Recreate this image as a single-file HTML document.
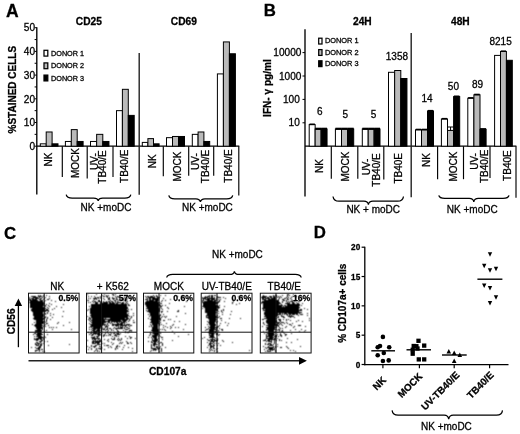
<!DOCTYPE html>
<html><head><meta charset="utf-8"><title>Figure</title>
<style>
html,body{margin:0;padding:0;background:#fff;}
svg{display:block;font-family:'Liberation Sans', Arial, Helvetica, sans-serif;}
</style></head>
<body>
<svg width="520" height="434" viewBox="0 0 520 434">
<defs><filter id="bl" x="-5%" y="-5%" width="110%" height="110%"><feConvolveMatrix order="3" kernelMatrix="0.05 0.12 0.05 0.12 0.32 0.12 0.05 0.12 0.05" divisor="1" edgeMode="none" preserveAlpha="false"/></filter></defs>
<rect x="0" y="0" width="520" height="434" fill="#fff"/>
<text x="5.90" y="16.60" font-size="17.5" font-weight="bold" text-anchor="start" fill="#000" stroke="#000" stroke-width="0.28">A</text>
<text x="263.80" y="15.90" font-size="16.8" font-weight="bold" text-anchor="start" fill="#000" stroke="#000" stroke-width="0.28">B</text>
<text x="3.90" y="239.20" font-size="16.8" font-weight="bold" text-anchor="start" fill="#000" stroke="#000" stroke-width="0.28">C</text>
<text x="313.80" y="238.30" font-size="16.8" font-weight="bold" text-anchor="start" fill="#000" stroke="#000" stroke-width="0.28">D</text>
<line x1="36.80" y1="27.30" x2="36.80" y2="194.60" stroke="#000" stroke-width="1.35"/>
<line x1="34.60" y1="146.20" x2="36.80" y2="146.20" stroke="#000" stroke-width="1.0"/>
<line x1="34.60" y1="134.35" x2="36.80" y2="134.35" stroke="#000" stroke-width="1.0"/>
<line x1="34.60" y1="122.50" x2="36.80" y2="122.50" stroke="#000" stroke-width="1.0"/>
<line x1="34.60" y1="110.65" x2="36.80" y2="110.65" stroke="#000" stroke-width="1.0"/>
<line x1="34.60" y1="98.80" x2="36.80" y2="98.80" stroke="#000" stroke-width="1.0"/>
<line x1="34.60" y1="86.95" x2="36.80" y2="86.95" stroke="#000" stroke-width="1.0"/>
<line x1="34.60" y1="75.10" x2="36.80" y2="75.10" stroke="#000" stroke-width="1.0"/>
<line x1="34.60" y1="63.25" x2="36.80" y2="63.25" stroke="#000" stroke-width="1.0"/>
<line x1="34.60" y1="51.40" x2="36.80" y2="51.40" stroke="#000" stroke-width="1.0"/>
<line x1="34.60" y1="39.55" x2="36.80" y2="39.55" stroke="#000" stroke-width="1.0"/>
<line x1="34.60" y1="27.70" x2="36.80" y2="27.70" stroke="#000" stroke-width="1.0"/>
<text x="35.00" y="149.90" font-size="10.1" text-anchor="end" fill="#000" stroke="#000" stroke-width="0.28">0</text>
<text x="35.00" y="126.20" font-size="10.1" text-anchor="end" fill="#000" stroke="#000" stroke-width="0.28">10</text>
<text x="35.00" y="102.50" font-size="10.1" text-anchor="end" fill="#000" stroke="#000" stroke-width="0.28">20</text>
<text x="35.00" y="78.80" font-size="10.1" text-anchor="end" fill="#000" stroke="#000" stroke-width="0.28">30</text>
<text x="35.00" y="55.10" font-size="10.1" text-anchor="end" fill="#000" stroke="#000" stroke-width="0.28">40</text>
<text x="35.00" y="31.40" font-size="10.1" text-anchor="end" fill="#000" stroke="#000" stroke-width="0.28">50</text>
<text x="16.00" y="89.70" font-size="10" font-weight="bold" text-anchor="middle" transform="rotate(-90 16.00 89.70)" fill="#000" stroke="#000" stroke-width="0.28">%STAINED CELLS</text>
<line x1="36.80" y1="146.20" x2="239.30" y2="146.20" stroke="#000" stroke-width="1.3"/>
<line x1="62.30" y1="146.20" x2="62.30" y2="177.00" stroke="#000" stroke-width="1.15"/>
<line x1="87.20" y1="146.20" x2="87.20" y2="178.50" stroke="#000" stroke-width="1.15"/>
<line x1="113.00" y1="146.20" x2="113.00" y2="177.00" stroke="#000" stroke-width="1.15"/>
<line x1="163.30" y1="146.20" x2="163.30" y2="176.20" stroke="#000" stroke-width="1.15"/>
<line x1="188.70" y1="146.20" x2="188.70" y2="175.80" stroke="#000" stroke-width="1.15"/>
<line x1="213.70" y1="146.20" x2="213.70" y2="175.80" stroke="#000" stroke-width="1.15"/>
<line x1="139.20" y1="53.00" x2="139.20" y2="194.70" stroke="#222" stroke-width="1.4"/>
<line x1="238.80" y1="146.20" x2="238.80" y2="195.40" stroke="#000" stroke-width="1.15"/>
<rect x="40.30" y="143.83" width="5.90" height="2.37" fill="#fff" stroke="#000" stroke-width="1.0"/>
<rect x="46.20" y="131.98" width="5.90" height="14.22" fill="#bababa" stroke="#000" stroke-width="1.0"/>
<rect x="52.10" y="143.83" width="5.90" height="2.37" fill="#000" stroke="#000" stroke-width="1.0"/>
<rect x="65.40" y="141.46" width="5.90" height="4.74" fill="#fff" stroke="#000" stroke-width="1.0"/>
<rect x="71.30" y="129.61" width="5.90" height="16.59" fill="#bababa" stroke="#000" stroke-width="1.0"/>
<rect x="77.20" y="141.46" width="5.90" height="4.74" fill="#000" stroke="#000" stroke-width="1.0"/>
<rect x="90.50" y="141.46" width="6.15" height="4.74" fill="#fff" stroke="#000" stroke-width="1.0"/>
<rect x="96.65" y="134.35" width="6.15" height="11.85" fill="#bababa" stroke="#000" stroke-width="1.0"/>
<rect x="102.80" y="141.46" width="6.15" height="4.74" fill="#000" stroke="#000" stroke-width="1.0"/>
<rect x="116.50" y="110.65" width="5.90" height="35.55" fill="#fff" stroke="#000" stroke-width="1.0"/>
<rect x="122.40" y="89.32" width="5.90" height="56.88" fill="#bababa" stroke="#000" stroke-width="1.0"/>
<rect x="128.30" y="115.39" width="5.90" height="30.81" fill="#000" stroke="#000" stroke-width="1.0"/>
<rect x="142.30" y="142.41" width="5.60" height="3.79" fill="#fff" stroke="#000" stroke-width="1.0"/>
<rect x="147.90" y="138.62" width="5.60" height="7.58" fill="#bababa" stroke="#000" stroke-width="1.0"/>
<rect x="153.50" y="143.83" width="5.60" height="2.37" fill="#000" stroke="#000" stroke-width="1.0"/>
<rect x="166.50" y="137.67" width="6.00" height="8.53" fill="#fff" stroke="#000" stroke-width="1.0"/>
<rect x="172.50" y="136.48" width="6.00" height="9.72" fill="#bababa" stroke="#000" stroke-width="1.0"/>
<rect x="178.50" y="136.48" width="6.00" height="9.72" fill="#000" stroke="#000" stroke-width="1.0"/>
<rect x="192.30" y="134.35" width="5.80" height="11.85" fill="#fff" stroke="#000" stroke-width="1.0"/>
<rect x="198.10" y="131.98" width="5.80" height="14.22" fill="#bababa" stroke="#000" stroke-width="1.0"/>
<rect x="203.90" y="141.46" width="5.80" height="4.74" fill="#000" stroke="#000" stroke-width="1.0"/>
<rect x="217.40" y="73.91" width="6.00" height="72.28" fill="#fff" stroke="#000" stroke-width="1.0"/>
<rect x="223.40" y="41.92" width="6.00" height="104.28" fill="#bababa" stroke="#000" stroke-width="1.0"/>
<rect x="229.40" y="53.77" width="6.00" height="92.43" fill="#000" stroke="#000" stroke-width="1.0"/>
<text x="75.80" y="25.00" font-size="10.2" font-weight="bold" text-anchor="start" fill="#000" stroke="#000" stroke-width="0.28">CD25</text>
<text x="170.80" y="25.00" font-size="10.2" font-weight="bold" text-anchor="start" fill="#000" stroke="#000" stroke-width="0.28">CD69</text>
<rect x="44.00" y="50.30" width="3.80" height="5.80" fill="#fff" stroke="#000" stroke-width="1.25"/>
<text x="51.00" y="55.80" font-size="7.25" text-anchor="start" fill="#000" stroke="#000" stroke-width="0.28">DONOR 1</text>
<rect x="44.00" y="62.90" width="3.80" height="5.80" fill="#bababa" stroke="#000" stroke-width="1.25"/>
<text x="51.00" y="68.30" font-size="7.25" text-anchor="start" fill="#000" stroke="#000" stroke-width="0.28">DONOR 2</text>
<rect x="44.00" y="75.10" width="3.80" height="5.80" fill="#000" stroke="#000" stroke-width="1.25"/>
<text x="51.00" y="80.60" font-size="7.25" text-anchor="start" fill="#000" stroke="#000" stroke-width="0.28">DONOR 3</text>
<text x="51.50" y="159.50" font-size="10" text-anchor="middle" transform="rotate(-90 51.50 159.50)" fill="#000" stroke="#000" stroke-width="0.28">NK</text>
<text x="79.00" y="163.00" font-size="10" text-anchor="middle" transform="rotate(-90 79.00 163.00)" fill="#000" stroke="#000" stroke-width="0.28">MOCK</text>
<text x="97.80" y="161.60" font-size="10" text-anchor="middle" transform="rotate(-90 97.80 161.60)" fill="#000" stroke="#000" stroke-width="0.28">UV-</text>
<text x="106.10" y="167.00" font-size="10" text-anchor="middle" transform="rotate(-90 106.10 167.00)" fill="#000" stroke="#000" stroke-width="0.28">TB40/E</text>
<text x="128.40" y="166.30" font-size="10" text-anchor="middle" transform="rotate(-90 128.40 166.30)" fill="#000" stroke="#000" stroke-width="0.28">TB40/E</text>
<text x="156.40" y="161.30" font-size="10" text-anchor="middle" transform="rotate(-90 156.40 161.30)" fill="#000" stroke="#000" stroke-width="0.28">NK</text>
<text x="181.00" y="166.50" font-size="10" text-anchor="middle" transform="rotate(-90 181.00 166.50)" fill="#000" stroke="#000" stroke-width="0.28">MOCK</text>
<text x="199.40" y="161.60" font-size="10" text-anchor="middle" transform="rotate(-90 199.40 161.60)" fill="#000" stroke="#000" stroke-width="0.28">UV-</text>
<text x="208.50" y="166.50" font-size="10" text-anchor="middle" transform="rotate(-90 208.50 166.50)" fill="#000" stroke="#000" stroke-width="0.28">TB40/E</text>
<text x="232.00" y="166.00" font-size="10" text-anchor="middle" transform="rotate(-90 232.00 166.00)" fill="#000" stroke="#000" stroke-width="0.28">TB40/E</text>
<path d="M66.20 194.60 Q66.80 198.00 72.20 198.00 L93.70 198.00 Q97.60 198.00 98.20 200.80 Q98.80 198.00 102.70 198.00 L124.80 198.00 Q130.20 198.00 130.80 194.60" fill="none" stroke="#000" stroke-width="1.25" stroke-linejoin="miter"/>
<text x="80.60" y="210.70" font-size="10" text-anchor="start" fill="#000" stroke="#000" stroke-width="0.28">NK +moDC</text>
<path d="M168.80 195.40 Q169.40 198.80 174.80 198.80 L195.90 198.80 Q199.80 198.80 200.40 201.80 Q201.00 198.80 204.90 198.80 L226.70 198.80 Q232.10 198.80 232.70 195.40" fill="none" stroke="#000" stroke-width="1.25" stroke-linejoin="miter"/>
<text x="182.00" y="211.40" font-size="10" text-anchor="start" fill="#000" stroke="#000" stroke-width="0.28">NK +moDC</text>
<line x1="305.00" y1="29.30" x2="305.00" y2="196.50" stroke="#000" stroke-width="1.35"/>
<line x1="302.50" y1="122.80" x2="305.00" y2="122.80" stroke="#000" stroke-width="1.0"/>
<text x="299.80" y="126.40" font-size="10.1" text-anchor="end" fill="#000" stroke="#000" stroke-width="0.28">10</text>
<line x1="302.50" y1="99.40" x2="305.00" y2="99.40" stroke="#000" stroke-width="1.0"/>
<text x="299.80" y="103.00" font-size="10.1" text-anchor="end" fill="#000" stroke="#000" stroke-width="0.28">100</text>
<line x1="302.50" y1="76.00" x2="305.00" y2="76.00" stroke="#000" stroke-width="1.0"/>
<text x="301.40" y="79.60" font-size="10.1" text-anchor="end" fill="#000" stroke="#000" stroke-width="0.28">1000</text>
<line x1="302.50" y1="52.60" x2="305.00" y2="52.60" stroke="#000" stroke-width="1.0"/>
<text x="301.40" y="56.20" font-size="10.1" text-anchor="end" fill="#000" stroke="#000" stroke-width="0.28">10000</text>
<text x="271.20" y="88.00" font-size="10.1" font-weight="bold" text-anchor="middle" transform="rotate(-90 271.20 88.00)" fill="#000" stroke="#000" stroke-width="0.28">IFN- γ pg/ml</text>
<line x1="305.00" y1="146.20" x2="516.40" y2="146.20" stroke="#000" stroke-width="1.3"/>
<line x1="331.30" y1="146.20" x2="331.30" y2="178.80" stroke="#000" stroke-width="1.15"/>
<line x1="357.80" y1="146.20" x2="357.80" y2="178.80" stroke="#000" stroke-width="1.15"/>
<line x1="383.80" y1="146.20" x2="383.80" y2="179.50" stroke="#000" stroke-width="1.15"/>
<line x1="437.60" y1="146.20" x2="437.60" y2="179.20" stroke="#000" stroke-width="1.15"/>
<line x1="463.50" y1="146.20" x2="463.50" y2="179.20" stroke="#000" stroke-width="1.15"/>
<line x1="490.00" y1="146.20" x2="490.00" y2="178.00" stroke="#000" stroke-width="1.15"/>
<line x1="411.20" y1="33.00" x2="411.20" y2="197.20" stroke="#222" stroke-width="1.4"/>
<line x1="516.00" y1="146.20" x2="516.00" y2="197.70" stroke="#000" stroke-width="1.15"/>
<rect x="309.20" y="124.60" width="5.95" height="21.60" fill="#fff" stroke="#000" stroke-width="1.0"/>
<rect x="315.15" y="129.00" width="5.95" height="17.20" fill="#bababa" stroke="#000" stroke-width="1.0"/>
<rect x="321.10" y="129.00" width="5.95" height="17.20" fill="#000" stroke="#000" stroke-width="1.0"/>
<line x1="309.50" y1="124.30" x2="314.85" y2="124.30" stroke="#000" stroke-width="1.6"/>
<line x1="315.15" y1="128.80" x2="321.10" y2="128.80" stroke="#000" stroke-width="2.2"/>
<line x1="321.10" y1="128.80" x2="327.05" y2="128.80" stroke="#000" stroke-width="2.2"/>
<rect x="335.40" y="129.00" width="6.10" height="17.20" fill="#fff" stroke="#000" stroke-width="1.0"/>
<rect x="341.50" y="129.00" width="6.10" height="17.20" fill="#bababa" stroke="#000" stroke-width="1.0"/>
<rect x="347.60" y="129.00" width="6.10" height="17.20" fill="#000" stroke="#000" stroke-width="1.0"/>
<line x1="335.40" y1="128.80" x2="341.50" y2="128.80" stroke="#000" stroke-width="2.2"/>
<line x1="341.50" y1="128.80" x2="347.60" y2="128.80" stroke="#000" stroke-width="2.2"/>
<line x1="347.60" y1="128.80" x2="353.70" y2="128.80" stroke="#000" stroke-width="2.2"/>
<rect x="362.30" y="129.00" width="5.90" height="17.20" fill="#fff" stroke="#000" stroke-width="1.0"/>
<rect x="368.20" y="129.00" width="5.90" height="17.20" fill="#bababa" stroke="#000" stroke-width="1.0"/>
<rect x="374.10" y="129.00" width="5.90" height="17.20" fill="#000" stroke="#000" stroke-width="1.0"/>
<line x1="362.30" y1="128.80" x2="368.20" y2="128.80" stroke="#000" stroke-width="2.2"/>
<line x1="368.20" y1="128.80" x2="374.10" y2="128.80" stroke="#000" stroke-width="2.2"/>
<line x1="374.10" y1="128.80" x2="380.00" y2="128.80" stroke="#000" stroke-width="2.2"/>
<rect x="388.50" y="72.30" width="6.15" height="73.90" fill="#fff" stroke="#000" stroke-width="1.0"/>
<rect x="394.65" y="70.50" width="6.15" height="75.70" fill="#bababa" stroke="#000" stroke-width="1.0"/>
<rect x="400.80" y="78.50" width="6.15" height="67.70" fill="#000" stroke="#000" stroke-width="1.0"/>
<rect x="415.50" y="129.80" width="6.00" height="16.40" fill="#fff" stroke="#000" stroke-width="1.0"/>
<rect x="421.50" y="129.80" width="6.00" height="16.40" fill="#bababa" stroke="#000" stroke-width="1.0"/>
<rect x="427.50" y="111.00" width="6.00" height="35.20" fill="#000" stroke="#000" stroke-width="1.0"/>
<line x1="415.80" y1="129.50" x2="421.20" y2="129.50" stroke="#000" stroke-width="1.6"/>
<line x1="421.80" y1="129.50" x2="427.20" y2="129.50" stroke="#000" stroke-width="1.6"/>
<line x1="427.80" y1="110.70" x2="433.20" y2="110.70" stroke="#000" stroke-width="1.6"/>
<rect x="441.40" y="119.00" width="6.10" height="27.20" fill="#fff" stroke="#000" stroke-width="1.0"/>
<rect x="447.50" y="130.40" width="6.10" height="15.80" fill="#bababa" stroke="#000" stroke-width="1.0"/>
<rect x="453.60" y="96.60" width="6.10" height="49.60" fill="#000" stroke="#000" stroke-width="1.0"/>
<line x1="441.70" y1="118.70" x2="447.20" y2="118.70" stroke="#000" stroke-width="1.6"/>
<rect x="447.50" y="127.00" width="6.10" height="3.40" fill="#fff" stroke="#000" stroke-width="1.0"/>
<line x1="450.55" y1="127.00" x2="450.55" y2="130.40" stroke="#000" stroke-width="1.0"/>
<line x1="453.90" y1="96.30" x2="459.40" y2="96.30" stroke="#000" stroke-width="1.6"/>
<rect x="467.80" y="98.20" width="6.10" height="48.00" fill="#fff" stroke="#000" stroke-width="1.0"/>
<rect x="473.90" y="94.80" width="6.10" height="51.40" fill="#bababa" stroke="#000" stroke-width="1.0"/>
<rect x="480.00" y="129.40" width="6.10" height="16.80" fill="#000" stroke="#000" stroke-width="1.0"/>
<line x1="468.10" y1="97.90" x2="473.60" y2="97.90" stroke="#000" stroke-width="1.6"/>
<line x1="474.20" y1="94.50" x2="479.70" y2="94.50" stroke="#000" stroke-width="1.6"/>
<line x1="480.00" y1="129.20" x2="486.10" y2="129.20" stroke="#000" stroke-width="2.2"/>
<rect x="494.60" y="55.40" width="5.90" height="90.80" fill="#fff" stroke="#000" stroke-width="1.0"/>
<rect x="500.50" y="51.50" width="5.90" height="94.70" fill="#bababa" stroke="#000" stroke-width="1.0"/>
<rect x="506.40" y="60.30" width="5.90" height="85.90" fill="#000" stroke="#000" stroke-width="1.0"/>
<line x1="500.80" y1="51.20" x2="506.10" y2="51.20" stroke="#000" stroke-width="1.6"/>
<text x="353.00" y="24.70" font-size="10.2" font-weight="bold" text-anchor="start" fill="#000" stroke="#000" stroke-width="0.28">24H</text>
<text x="451.00" y="25.00" font-size="10.2" font-weight="bold" text-anchor="start" fill="#000" stroke="#000" stroke-width="0.28">48H</text>
<rect x="318.70" y="38.20" width="3.30" height="5.80" fill="#fff" stroke="#000" stroke-width="1.25"/>
<text x="324.90" y="42.80" font-size="7.4" text-anchor="start" fill="#000" stroke="#000" stroke-width="0.28">DONOR 1</text>
<rect x="318.70" y="49.60" width="3.30" height="5.80" fill="#bababa" stroke="#000" stroke-width="1.25"/>
<text x="324.90" y="54.90" font-size="7.4" text-anchor="start" fill="#000" stroke="#000" stroke-width="0.28">DONOR 2</text>
<rect x="318.70" y="60.80" width="3.30" height="5.80" fill="#000" stroke="#000" stroke-width="1.25"/>
<text x="324.90" y="66.00" font-size="7.4" text-anchor="start" fill="#000" stroke="#000" stroke-width="0.28">DONOR 3</text>
<text x="319.70" y="114.60" font-size="10" text-anchor="middle" fill="#000" stroke="#000" stroke-width="0.28">6</text>
<text x="345.40" y="117.80" font-size="10" text-anchor="middle" fill="#000" stroke="#000" stroke-width="0.28">5</text>
<text x="373.50" y="117.80" font-size="10" text-anchor="middle" fill="#000" stroke="#000" stroke-width="0.28">5</text>
<text x="396.90" y="60.00" font-size="10" text-anchor="middle" fill="#000" stroke="#000" stroke-width="0.28">1358</text>
<text x="427.00" y="102.00" font-size="10" text-anchor="middle" fill="#000" stroke="#000" stroke-width="0.28">14</text>
<text x="453.40" y="89.80" font-size="10" text-anchor="middle" fill="#000" stroke="#000" stroke-width="0.28">50</text>
<text x="477.60" y="88.00" font-size="10" text-anchor="middle" fill="#000" stroke="#000" stroke-width="0.28">89</text>
<text x="500.60" y="44.60" font-size="10" text-anchor="middle" fill="#000" stroke="#000" stroke-width="0.28">8215</text>
<text x="322.60" y="166.00" font-size="10" text-anchor="middle" transform="rotate(-90 322.60 166.00)" fill="#000" stroke="#000" stroke-width="0.28">NK</text>
<text x="349.00" y="166.60" font-size="10" text-anchor="middle" transform="rotate(-90 349.00 166.60)" fill="#000" stroke="#000" stroke-width="0.28">MOCK</text>
<text x="369.60" y="167.00" font-size="10" text-anchor="middle" transform="rotate(-90 369.60 167.00)" fill="#000" stroke="#000" stroke-width="0.28">UV-</text>
<text x="379.90" y="170.00" font-size="10" text-anchor="middle" transform="rotate(-90 379.90 170.00)" fill="#000" stroke="#000" stroke-width="0.28">TB40/E</text>
<text x="402.50" y="168.30" font-size="10" text-anchor="middle" transform="rotate(-90 402.50 168.30)" fill="#000" stroke="#000" stroke-width="0.28">TB40E</text>
<text x="430.00" y="160.00" font-size="10" text-anchor="middle" transform="rotate(-90 430.00 160.00)" fill="#000" stroke="#000" stroke-width="0.28">NK</text>
<text x="456.70" y="166.50" font-size="10" text-anchor="middle" transform="rotate(-90 456.70 166.50)" fill="#000" stroke="#000" stroke-width="0.28">MOCK</text>
<text x="478.00" y="161.40" font-size="10" text-anchor="middle" transform="rotate(-90 478.00 161.40)" fill="#000" stroke="#000" stroke-width="0.28">UV-</text>
<text x="487.60" y="166.30" font-size="10" text-anchor="middle" transform="rotate(-90 487.60 166.30)" fill="#000" stroke="#000" stroke-width="0.28">TB40/E</text>
<text x="510.90" y="165.60" font-size="10" text-anchor="middle" transform="rotate(-90 510.90 165.60)" fill="#000" stroke="#000" stroke-width="0.28">TB40E</text>
<path d="M333.00 196.50 Q333.60 201.20 339.00 201.20 L363.90 201.20 Q367.80 201.20 368.40 204.60 Q369.00 201.20 372.90 201.20 L397.50 201.20 Q402.90 201.20 403.50 196.50" fill="none" stroke="#000" stroke-width="1.25" stroke-linejoin="miter"/>
<text x="346.40" y="213.00" font-size="10" text-anchor="start" fill="#000" stroke="#000" stroke-width="0.28">NK + moDC</text>
<path d="M438.80 195.40 Q439.40 198.40 444.80 198.40 L469.30 198.40 Q473.20 198.40 473.80 201.80 Q474.40 198.40 478.30 198.40 L503.00 198.40 Q508.40 198.40 509.00 195.40" fill="none" stroke="#000" stroke-width="1.25" stroke-linejoin="miter"/>
<text x="446.80" y="212.70" font-size="10" text-anchor="start" fill="#000" stroke="#000" stroke-width="0.28">NK +moDC</text>
<path d="M38 295.5h1M40 295.5h1M43 295.5h1M46 295.5h1M31 296.5h5M38 296.5h4M43 296.5h1M49 296.5h1M29 297.5h1M33 297.5h5M39 297.5h1M42 297.5h1M45 297.5h1M29 298.5h1M31 298.5h3M35 298.5h4M40 298.5h2M44 298.5h1M49 298.5h1M29 299.5h2M32 299.5h5M39 299.5h2M43 299.5h1M47 299.5h2M29 300.5h9M40 300.5h3M45 300.5h1M51 300.5h1M30 301.5h13M44 301.5h1M55 301.5h1M29 302.5h15M30 303.5h15M49 303.5h1M30 304.5h14M46 304.5h1M51 304.5h1M63 304.5h1M30 305.5h16M48 305.5h1M30 306.5h13M45 306.5h1M49 306.5h1M56 306.5h1M30 307.5h15M47 307.5h1M61 307.5h1M32 308.5h14M48 308.5h1M54 308.5h1M31 309.5h14M46 309.5h2M52 309.5h1M31 310.5h18M32 311.5h14M48 311.5h1M63 311.5h1M33 312.5h10M47 312.5h1M33 313.5h10M44 313.5h2M47 313.5h1M50 313.5h1M33 314.5h11M45 314.5h1M53 314.5h1M33 315.5h11M50 315.5h1M34 316.5h10M45 316.5h1M62 316.5h1M34 317.5h9M44 317.5h2M47 317.5h1M52 317.5h1M33 318.5h12M47 318.5h1M34 319.5h10M46 319.5h1M50 319.5h1M36 320.5h7M46 320.5h1M36 321.5h9M46 321.5h1M34 322.5h1M36 322.5h8M45 322.5h1M58 322.5h1M69 322.5h1M36 323.5h8M46 323.5h2M57 323.5h1M32 324.5h1M35 324.5h7M45 324.5h1M34 325.5h9M44 325.5h1M48 325.5h1M63 325.5h1M35 326.5h7M43 326.5h1M45 326.5h1M36 327.5h7M49 327.5h1M51 327.5h1M53 327.5h1M56 327.5h1M36 328.5h7M37 329.5h4M42 329.5h1M52 329.5h1M71 329.5h1M35 330.5h7M46 330.5h1M35 331.5h7M44 331.5h1M35 332.5h1M37 332.5h4M34 333.5h2M37 333.5h5M33 334.5h1M36 334.5h7M47 334.5h1M37 335.5h4M34 336.5h1M36 336.5h6M44 336.5h1M38 337.5h6M45 337.5h1M34 338.5h1M36 338.5h6M43 338.5h1M34 339.5h5M40 339.5h2M43 339.5h1M36 340.5h2M41 340.5h2M39 341.5h3M44 341.5h1M47 341.5h1M36 342.5h2M40 342.5h1M35 343.5h1M37 343.5h3M41 343.5h1M43 343.5h1M35 344.5h2M38 344.5h1M40 344.5h2M69 344.5h1M36 345.5h3M40 345.5h2M48 345.5h1M39 346.5h2M31 347.5h1M35 347.5h1M38 347.5h3M36 348.5h4M38 349.5h2M41 349.5h2M35 350.5h3M39 350.5h1M35 351.5h1M39 351.5h1M42 351.5h1M44 351.5h1" stroke="#000" stroke-width="1" fill="none" filter="url(#bl)"/>
<rect x="28.50" y="293.20" width="50.60" height="59.80" fill="none" stroke="#111" stroke-width="1.0"/>
<line x1="44.20" y1="293.20" x2="44.20" y2="353.00" stroke="#111" stroke-width="1.0"/>
<line x1="28.50" y1="332.20" x2="79.10" y2="332.20" stroke="#111" stroke-width="1.0"/>
<text x="57.30" y="290.20" font-size="10" text-anchor="middle" fill="#000" stroke="#000" stroke-width="0.28">NK</text>
<text x="78.30" y="300.70" font-size="8.7" font-weight="bold" text-anchor="end" fill="#000" stroke="#000" stroke-width="0.28">0.5%</text>
<path d="M87 294.5h1M96 294.5h1M104 294.5h1M112 294.5h2M115 294.5h1M102 295.5h1M106 295.5h1M108 295.5h1M113 295.5h1M88 296.5h1M91 296.5h1M94 296.5h1M100 296.5h1M103 296.5h2M106 296.5h2M115 296.5h1M117 296.5h2M127 296.5h2M95 297.5h1M97 297.5h2M100 297.5h1M107 297.5h1M109 297.5h1M112 297.5h1M116 297.5h1M118 297.5h1M121 297.5h1M124 297.5h1M88 298.5h1M90 298.5h1M93 298.5h4M98 298.5h1M100 298.5h1M103 298.5h1M108 298.5h2M112 298.5h3M116 298.5h1M123 298.5h1M125 298.5h1M127 298.5h1M94 299.5h1M96 299.5h1M104 299.5h1M108 299.5h2M113 299.5h1M116 299.5h2M121 299.5h1M123 299.5h1M126 299.5h1M130 299.5h1M87 300.5h2M93 300.5h1M98 300.5h2M110 300.5h1M114 300.5h2M118 300.5h1M120 300.5h1M123 300.5h1M126 300.5h1M134 300.5h1M92 301.5h1M94 301.5h2M98 301.5h3M103 301.5h1M106 301.5h1M108 301.5h2M111 301.5h2M115 301.5h1M117 301.5h1M125 301.5h1M127 301.5h1M88 302.5h1M90 302.5h1M93 302.5h1M95 302.5h3M100 302.5h2M103 302.5h5M109 302.5h2M112 302.5h2M115 302.5h1M117 302.5h4M122 302.5h2M126 302.5h1M95 303.5h3M100 303.5h8M109 303.5h6M116 303.5h2M121 303.5h3M125 303.5h1M127 303.5h1M91 304.5h36M128 304.5h1M91 305.5h36M128 305.5h2M89 306.5h1M91 306.5h36M91 307.5h37M90 308.5h38M88 309.5h1M90 309.5h37M128 309.5h1M131 309.5h1M87 310.5h1M90 310.5h38M90 311.5h39M90 312.5h37M90 313.5h37M128 313.5h1M133 313.5h1M91 314.5h37M90 315.5h39M133 315.5h1M87 316.5h1M91 316.5h37M129 316.5h1M131 316.5h1M89 317.5h1M91 317.5h37M131 317.5h1M89 318.5h2M92 318.5h12M105 318.5h1M110 318.5h15M126 318.5h3M130 318.5h1M88 319.5h1M90 319.5h1M92 319.5h36M129 319.5h1M89 320.5h1M91 320.5h14M108 320.5h13M122 320.5h5M129 320.5h1M133 320.5h1M90 321.5h1M92 321.5h18M111 321.5h11M123 321.5h3M128 321.5h1M91 322.5h15M108 322.5h2M111 322.5h1M114 322.5h1M116 322.5h2M119 322.5h1M121 322.5h4M126 322.5h1M133 322.5h2M89 323.5h1M92 323.5h12M107 323.5h1M110 323.5h1M112 323.5h1M117 323.5h2M120 323.5h3M124 323.5h1M90 324.5h16M107 324.5h1M112 324.5h11M124 324.5h1M126 324.5h4M91 325.5h12M104 325.5h1M106 325.5h1M108 325.5h1M112 325.5h2M115 325.5h4M120 325.5h7M128 325.5h1M130 325.5h2M90 326.5h12M105 326.5h3M116 326.5h1M118 326.5h1M120 326.5h1M122 326.5h1M125 326.5h1M129 326.5h1M89 327.5h1M91 327.5h1M93 327.5h8M102 327.5h1M105 327.5h1M107 327.5h1M114 327.5h1M118 327.5h1M120 327.5h3M124 327.5h1M126 327.5h2M92 328.5h9M102 328.5h1M104 328.5h1M107 328.5h1M109 328.5h2M113 328.5h1M115 328.5h8M124 328.5h1M128 328.5h2M89 329.5h1M91 329.5h1M93 329.5h3M97 329.5h3M102 329.5h3M106 329.5h2M111 329.5h1M116 329.5h1M125 329.5h3M92 330.5h3M96 330.5h5M105 330.5h1M108 330.5h1M111 330.5h1M113 330.5h1M117 330.5h1M123 330.5h1M129 330.5h3M91 331.5h1M93 331.5h7M102 331.5h1M107 331.5h1M117 331.5h2M125 331.5h1M129 331.5h1M131 331.5h1M88 332.5h1M91 332.5h1M93 332.5h4M98 332.5h3M105 332.5h1M107 332.5h1M110 332.5h1M114 332.5h1M118 332.5h1M125 332.5h1M127 332.5h2M90 333.5h2M93 333.5h7M102 333.5h1M105 333.5h1M108 333.5h1M111 333.5h1M113 333.5h2M116 333.5h3M120 333.5h1M89 334.5h1M92 334.5h2M95 334.5h1M97 334.5h4M104 334.5h1M109 334.5h2M115 334.5h1M117 334.5h3M91 335.5h2M98 335.5h2M101 335.5h1M103 335.5h2M106 335.5h1M108 335.5h1M110 335.5h1M114 335.5h3M94 336.5h1M96 336.5h3M103 336.5h1M112 336.5h1M116 336.5h1M118 336.5h1M125 336.5h1M129 336.5h1M91 337.5h4M97 337.5h1M114 337.5h1M130 337.5h2M92 338.5h8M111 338.5h1M114 338.5h1M118 338.5h1M121 338.5h1M127 338.5h1M130 338.5h1M135 338.5h1M92 339.5h1M94 339.5h2M98 339.5h1M100 339.5h1M104 339.5h1M108 339.5h1M112 339.5h3M117 339.5h1M119 339.5h1M121 339.5h1M87 340.5h1M93 340.5h1M95 340.5h1M97 340.5h1M99 340.5h2M107 340.5h1M118 340.5h1M120 340.5h1M92 341.5h10M108 341.5h1M126 341.5h1M92 342.5h2M95 342.5h5M111 342.5h1M120 342.5h1M122 342.5h1M127 342.5h1M130 342.5h1M92 343.5h4M97 343.5h2M102 343.5h1M104 343.5h1M113 343.5h1M119 343.5h1M121 343.5h1M127 343.5h2M131 343.5h1M97 344.5h4M112 344.5h1M91 345.5h1M95 345.5h2M104 345.5h1M106 345.5h3M117 345.5h1M124 345.5h1M87 346.5h1M91 346.5h1M93 346.5h3M99 346.5h2M110 346.5h1M116 346.5h2M119 346.5h1M89 347.5h1M94 347.5h1M101 347.5h1M108 347.5h1M111 347.5h1M116 347.5h1M123 347.5h1M128 347.5h1M91 348.5h1M96 348.5h1M98 348.5h4M115 348.5h1M117 348.5h1M132 348.5h1M88 349.5h1M91 349.5h1M96 349.5h1M100 349.5h1M104 349.5h1M115 349.5h1M122 349.5h1M95 350.5h1M97 350.5h1M94 351.5h1M97 351.5h1M99 351.5h1M132 351.5h1" stroke="#000" stroke-width="1" fill="none" filter="url(#bl)"/>
<rect x="86.50" y="293.20" width="50.40" height="59.80" fill="none" stroke="#111" stroke-width="1.0"/>
<line x1="101.60" y1="293.20" x2="101.60" y2="353.00" stroke="#111" stroke-width="1.0"/>
<line x1="86.50" y1="332.20" x2="136.90" y2="332.20" stroke="#111" stroke-width="1.0"/>
<text x="112.80" y="290.20" font-size="10" text-anchor="middle" fill="#000" stroke="#000" stroke-width="0.28">+ K562</text>
<text x="136.10" y="300.70" font-size="8.7" font-weight="bold" text-anchor="end" fill="#000" stroke="#000" stroke-width="0.28">57%</text>
<path d="M153 295.5h1M156 295.5h1M160 295.5h1M165 295.5h1M145 296.5h1M147 296.5h2M150 296.5h3M154 296.5h1M156 296.5h2M177 296.5h1M181 296.5h1M146 297.5h1M148 297.5h7M157 297.5h3M147 298.5h1M149 298.5h2M152 298.5h7M163 298.5h1M145 299.5h3M149 299.5h2M152 299.5h7M170 299.5h1M147 300.5h1M149 300.5h5M155 300.5h4M162 300.5h1M165 300.5h1M146 301.5h12M161 301.5h1M186 301.5h1M145 302.5h15M145 303.5h14M160 303.5h2M169 303.5h1M145 304.5h15M146 305.5h15M162 305.5h1M165 305.5h1M146 306.5h13M160 306.5h2M184 306.5h1M147 307.5h12M160 307.5h1M167 307.5h1M146 308.5h14M161 308.5h1M168 308.5h1M148 309.5h12M162 309.5h1M146 310.5h1M148 310.5h12M178 310.5h1M147 311.5h13M161 311.5h2M167 311.5h1M177 311.5h2M149 312.5h10M161 312.5h1M150 313.5h9M185 313.5h1M148 314.5h1M150 314.5h9M160 314.5h1M163 314.5h1M150 315.5h11M149 316.5h1M151 316.5h9M162 316.5h1M164 316.5h1M166 316.5h1M176 316.5h1M151 317.5h9M161 317.5h1M165 317.5h1M148 318.5h1M151 318.5h10M150 319.5h11M168 319.5h1M170 319.5h1M151 320.5h8M160 320.5h1M163 320.5h2M151 321.5h9M174 321.5h1M179 321.5h1M150 322.5h9M160 322.5h1M152 323.5h8M166 323.5h1M150 324.5h1M152 324.5h6M159 324.5h1M161 324.5h1M173 324.5h1M185 324.5h1M151 325.5h1M153 325.5h5M159 325.5h1M163 325.5h1M172 325.5h1M149 326.5h1M151 326.5h1M153 326.5h5M165 326.5h1M170 326.5h1M152 327.5h6M163 327.5h1M167 327.5h1M171 327.5h1M175 327.5h1M178 327.5h1M152 328.5h6M170 328.5h1M152 329.5h7M160 329.5h1M162 329.5h1M164 329.5h1M183 329.5h1M151 330.5h8M165 330.5h1M152 331.5h7M172 331.5h1M150 332.5h1M153 332.5h6M160 332.5h1M150 333.5h1M152 333.5h7M160 333.5h1M174 333.5h1M150 334.5h1M154 334.5h5M188 334.5h1M149 335.5h1M152 335.5h6M159 335.5h1M152 336.5h5M158 336.5h1M160 336.5h1M178 336.5h1M148 337.5h1M151 337.5h1M153 337.5h4M161 337.5h2M152 338.5h1M154 338.5h3M158 338.5h1M152 339.5h1M154 339.5h4M162 339.5h1M152 340.5h6M172 340.5h1M148 341.5h1M151 341.5h1M153 341.5h4M158 341.5h1M151 342.5h2M154 342.5h2M157 342.5h1M160 342.5h2M153 343.5h3M159 343.5h1M162 343.5h1M151 344.5h1M153 344.5h5M162 344.5h1M151 345.5h1M153 345.5h2M162 345.5h1M151 346.5h1M154 346.5h1M156 346.5h2M160 346.5h1M151 347.5h1M156 347.5h2M159 347.5h1M165 347.5h1M151 348.5h5M157 348.5h3M161 348.5h1M153 349.5h4M158 349.5h1M161 349.5h1M151 350.5h1M153 350.5h1M155 350.5h1M161 350.5h1M150 351.5h1M159 351.5h1M161 351.5h1" stroke="#000" stroke-width="1" fill="none" filter="url(#bl)"/>
<rect x="143.50" y="293.20" width="50.30" height="59.80" fill="none" stroke="#111" stroke-width="1.0"/>
<line x1="159.00" y1="293.20" x2="159.00" y2="353.00" stroke="#111" stroke-width="1.0"/>
<line x1="143.50" y1="332.20" x2="193.80" y2="332.20" stroke="#111" stroke-width="1.0"/>
<text x="168.80" y="290.20" font-size="10" text-anchor="middle" fill="#000" stroke="#000" stroke-width="0.28">MOCK</text>
<text x="193.00" y="300.70" font-size="8.7" font-weight="bold" text-anchor="end" fill="#000" stroke="#000" stroke-width="0.28">0.6%</text>
<path d="M209 295.5h1M211 295.5h2M214 295.5h2M205 296.5h1M207 296.5h3M211 296.5h2M217 296.5h1M238 296.5h1M202 297.5h1M204 297.5h4M209 297.5h1M211 297.5h2M214 297.5h1M217 297.5h4M223 297.5h1M202 298.5h4M207 298.5h8M216 298.5h1M225 298.5h1M203 299.5h1M205 299.5h5M211 299.5h4M216 299.5h1M218 299.5h1M220 299.5h1M232 299.5h1M202 300.5h2M207 300.5h6M214 300.5h3M219 300.5h1M202 301.5h1M204 301.5h12M218 301.5h2M224 301.5h1M233 301.5h1M202 302.5h17M232 302.5h1M203 303.5h15M232 303.5h1M239 303.5h1M203 304.5h13M236 304.5h1M203 305.5h15M219 305.5h1M202 306.5h17M224 306.5h1M204 307.5h16M202 308.5h1M205 308.5h12M218 308.5h1M205 309.5h13M223 309.5h1M205 310.5h13M221 310.5h1M223 310.5h1M205 311.5h11M218 311.5h1M221 311.5h1M231 311.5h1M205 312.5h12M222 312.5h1M207 313.5h9M218 313.5h1M207 314.5h9M222 314.5h1M230 314.5h1M206 315.5h10M217 315.5h1M206 316.5h1M208 316.5h9M219 316.5h1M206 317.5h13M208 318.5h8M220 318.5h2M229 318.5h1M240 318.5h1M209 319.5h8M209 320.5h7M221 320.5h1M207 321.5h1M209 321.5h7M217 321.5h1M208 322.5h7M216 322.5h1M225 322.5h1M209 323.5h6M220 323.5h1M228 323.5h1M207 324.5h1M209 324.5h7M210 325.5h6M219 325.5h1M227 325.5h1M208 326.5h1M210 326.5h5M217 326.5h2M205 327.5h1M209 327.5h9M208 328.5h1M210 328.5h5M216 328.5h1M219 328.5h1M206 329.5h2M209 329.5h8M221 329.5h2M205 330.5h1M209 330.5h5M216 330.5h1M218 330.5h1M222 330.5h1M209 331.5h8M218 331.5h1M208 332.5h6M215 332.5h1M209 333.5h6M216 333.5h2M209 334.5h1M211 334.5h3M216 334.5h2M219 334.5h1M209 335.5h5M218 335.5h1M210 336.5h4M204 337.5h1M209 337.5h6M202 338.5h1M212 338.5h1M215 338.5h1M217 338.5h1M207 339.5h1M210 339.5h5M217 339.5h1M208 340.5h2M211 340.5h2M214 340.5h4M222 340.5h1M210 341.5h5M216 341.5h1M223 341.5h1M207 342.5h1M210 342.5h1M213 342.5h1M232 342.5h1M209 343.5h4M214 343.5h1M216 343.5h1M218 343.5h1M209 344.5h2M213 344.5h1M208 345.5h1M210 345.5h2M213 345.5h2M217 345.5h1M220 345.5h1M210 346.5h4M207 347.5h1M210 347.5h2M213 347.5h1M210 348.5h1M213 348.5h2M217 348.5h1M209 349.5h1M211 349.5h1M216 349.5h1M210 350.5h1M212 350.5h1M214 350.5h1M249 350.5h1M209 351.5h1M214 351.5h1M217 351.5h1" stroke="#000" stroke-width="1" fill="none" filter="url(#bl)"/>
<rect x="201.20" y="293.20" width="50.80" height="59.80" fill="none" stroke="#111" stroke-width="1.0"/>
<line x1="217.00" y1="293.20" x2="217.00" y2="353.00" stroke="#111" stroke-width="1.0"/>
<line x1="201.20" y1="332.20" x2="252.00" y2="332.20" stroke="#111" stroke-width="1.0"/>
<text x="226.80" y="290.20" font-size="10" text-anchor="middle" fill="#000" stroke="#000" stroke-width="0.28">UV-TB40/E</text>
<text x="251.20" y="300.70" font-size="8.7" font-weight="bold" text-anchor="end" fill="#000" stroke="#000" stroke-width="0.28">0.6%</text>
<path d="M287 294.5h2M293 294.5h1M263 295.5h1M273 295.5h1M275 295.5h2M282 295.5h1M287 295.5h1M289 295.5h1M262 296.5h5M269 296.5h3M273 296.5h2M276 296.5h1M278 296.5h1M280 296.5h1M287 296.5h1M292 296.5h1M295 296.5h2M261 297.5h5M267 297.5h2M270 297.5h2M273 297.5h3M277 297.5h1M279 297.5h1M281 297.5h1M286 297.5h1M288 297.5h1M291 297.5h1M295 297.5h1M262 298.5h2M265 298.5h5M271 298.5h5M279 298.5h1M284 298.5h2M287 298.5h1M290 298.5h1M262 299.5h4M268 299.5h8M278 299.5h1M282 299.5h2M287 299.5h2M291 299.5h1M295 299.5h1M264 300.5h15M283 300.5h2M286 300.5h1M292 300.5h1M295 300.5h1M300 300.5h1M262 301.5h17M282 301.5h1M286 301.5h1M288 301.5h1M290 301.5h3M294 301.5h1M298 301.5h2M261 302.5h19M282 302.5h1M287 302.5h1M289 302.5h1M292 302.5h2M296 302.5h1M261 303.5h1M263 303.5h18M285 303.5h5M292 303.5h3M297 303.5h2M302 303.5h1M263 304.5h16M281 304.5h1M287 304.5h13M263 305.5h20M284 305.5h2M287 305.5h13M301 305.5h1M263 306.5h19M283 306.5h1M285 306.5h14M263 307.5h37M262 308.5h37M304 308.5h1M263 309.5h1M265 309.5h34M300 309.5h2M307 309.5h1M263 310.5h39M265 311.5h34M264 312.5h38M264 313.5h14M279 313.5h2M282 313.5h1M284 313.5h3M288 313.5h10M299 313.5h1M307 313.5h1M264 314.5h17M282 314.5h1M284 314.5h1M286 314.5h2M289 314.5h2M292 314.5h3M296 314.5h2M300 314.5h3M265 315.5h13M281 315.5h1M287 315.5h1M289 315.5h1M291 315.5h1M298 315.5h1M307 315.5h1M264 316.5h13M278 316.5h1M281 316.5h3M288 316.5h6M266 317.5h10M277 317.5h2M283 317.5h2M290 317.5h1M294 317.5h1M264 318.5h13M309 318.5h1M262 319.5h2M267 319.5h9M278 319.5h3M283 319.5h1M286 319.5h1M288 319.5h1M266 320.5h11M279 320.5h2M286 320.5h1M290 320.5h1M298 320.5h1M309 320.5h1M266 321.5h11M280 321.5h1M296 321.5h1M302 321.5h1M263 322.5h1M266 322.5h14M281 322.5h3M286 322.5h1M263 323.5h1M267 323.5h9M277 323.5h2M280 323.5h1M284 323.5h1M287 323.5h1M292 323.5h1M264 324.5h1M268 324.5h10M279 324.5h1M281 324.5h1M289 324.5h2M266 325.5h13M282 325.5h1M291 325.5h1M298 325.5h3M262 326.5h1M268 326.5h7M276 326.5h1M278 326.5h1M286 326.5h1M294 326.5h1M305 326.5h1M266 327.5h11M279 327.5h1M285 327.5h1M293 327.5h1M267 328.5h8M280 328.5h1M282 328.5h1M266 329.5h11M278 329.5h2M295 329.5h1M301 329.5h1M266 330.5h1M268 330.5h6M277 330.5h1M279 330.5h1M282 330.5h1M290 330.5h1M305 330.5h1M263 331.5h1M268 331.5h6M275 331.5h1M279 331.5h1M281 331.5h2M299 331.5h1M304 331.5h1M266 332.5h1M268 332.5h8M277 332.5h1M283 332.5h1M264 333.5h1M267 333.5h7M280 333.5h1M284 333.5h1M291 333.5h1M266 334.5h1M268 334.5h7M277 334.5h1M280 334.5h1M285 334.5h2M266 335.5h1M268 335.5h6M275 335.5h2M280 335.5h2M285 335.5h1M266 336.5h7M274 336.5h3M278 336.5h1M281 336.5h1M266 337.5h1M269 337.5h5M275 337.5h1M266 338.5h7M274 338.5h2M277 338.5h1M287 338.5h1M265 339.5h1M268 339.5h8M279 339.5h1M297 339.5h1M263 340.5h3M267 340.5h3M271 340.5h1M274 340.5h1M276 340.5h1M279 340.5h1M281 340.5h1M266 341.5h1M268 341.5h4M274 341.5h1M271 342.5h1M274 342.5h1M286 342.5h1M291 342.5h1M265 343.5h1M268 343.5h3M274 343.5h1M265 344.5h1M267 344.5h2M270 344.5h2M273 344.5h1M277 344.5h1M269 345.5h4M263 346.5h1M268 346.5h1M273 346.5h1M275 346.5h1M277 346.5h1M286 346.5h1M300 346.5h1M265 347.5h1M267 347.5h7M275 347.5h1M280 347.5h2M287 347.5h1M266 348.5h1M269 348.5h4M274 348.5h1M288 348.5h1M264 349.5h1M268 349.5h7M267 350.5h1M270 350.5h1M272 350.5h1M275 350.5h1M290 350.5h1M293 350.5h1M265 351.5h1M267 351.5h4M275 351.5h1M295 351.5h1" stroke="#000" stroke-width="1" fill="none" filter="url(#bl)"/>
<rect x="260.30" y="293.20" width="50.80" height="59.80" fill="none" stroke="#111" stroke-width="1.0"/>
<line x1="276.00" y1="293.20" x2="276.00" y2="353.00" stroke="#111" stroke-width="1.0"/>
<line x1="260.30" y1="332.20" x2="311.10" y2="332.20" stroke="#111" stroke-width="1.0"/>
<text x="284.30" y="290.20" font-size="10" text-anchor="middle" fill="#000" stroke="#000" stroke-width="0.28">TB40/E</text>
<text x="310.30" y="300.70" font-size="8.7" font-weight="bold" text-anchor="end" fill="#000" stroke="#000" stroke-width="0.28">16%</text>
<line x1="18.40" y1="347.20" x2="18.40" y2="304.50" stroke="#000" stroke-width="1.3"/>
<polygon points="18.4,298.4 14.7,305.9 22.1,305.9" fill="#000"/>
<line x1="28.50" y1="360.80" x2="300.00" y2="360.80" stroke="#222" stroke-width="1.5"/>
<polygon points="306.9,360.8 299.0,356.9 299.0,364.7" fill="#000"/>
<text x="15.10" y="321.30" font-size="10.1" font-weight="bold" text-anchor="middle" transform="rotate(-90 15.10 321.30)" fill="#000" stroke="#000" stroke-width="0.28">CD56</text>
<text x="149.00" y="374.70" font-size="10.2" font-weight="bold" text-anchor="start" fill="#000" stroke="#000" stroke-width="0.28">CD107a</text>
<path d="M166.70 277.50 Q167.30 274.40 172.70 274.40 L229.90 274.40 Q233.80 274.40 234.40 271.30 Q235.00 274.40 238.90 274.40 L295.20 274.40 Q300.60 274.40 301.20 277.50" fill="none" stroke="#000" stroke-width="1.25" stroke-linejoin="miter"/>
<text x="212.00" y="258.00" font-size="10" text-anchor="start" fill="#000" stroke="#000" stroke-width="0.28">NK +moDC</text>
<line x1="364.80" y1="246.70" x2="364.80" y2="365.30" stroke="#000" stroke-width="1.3"/>
<line x1="364.20" y1="364.70" x2="508.50" y2="364.70" stroke="#000" stroke-width="1.3"/>
<line x1="361.60" y1="364.50" x2="364.80" y2="364.50" stroke="#000" stroke-width="1.2"/>
<text x="360.20" y="367.50" font-size="8.2" font-weight="bold" text-anchor="end" fill="#000" stroke="#000" stroke-width="0.28">0</text>
<line x1="361.60" y1="335.18" x2="364.80" y2="335.18" stroke="#000" stroke-width="1.2"/>
<text x="360.20" y="338.18" font-size="8.2" font-weight="bold" text-anchor="end" fill="#000" stroke="#000" stroke-width="0.28">5</text>
<line x1="361.60" y1="305.85" x2="364.80" y2="305.85" stroke="#000" stroke-width="1.2"/>
<text x="360.20" y="308.85" font-size="8.2" font-weight="bold" text-anchor="end" fill="#000" stroke="#000" stroke-width="0.28">10</text>
<line x1="361.60" y1="276.52" x2="364.80" y2="276.52" stroke="#000" stroke-width="1.2"/>
<text x="360.20" y="279.52" font-size="8.2" font-weight="bold" text-anchor="end" fill="#000" stroke="#000" stroke-width="0.28">15</text>
<line x1="361.60" y1="247.20" x2="364.80" y2="247.20" stroke="#000" stroke-width="1.2"/>
<text x="360.20" y="250.20" font-size="8.2" font-weight="bold" text-anchor="end" fill="#000" stroke="#000" stroke-width="0.28">20</text>
<text x="345.60" y="303.20" font-size="10" font-weight="bold" text-anchor="middle" transform="rotate(-90 345.60 303.20)" fill="#000" stroke="#000" stroke-width="0.28">% CD107a+ cells</text>
<line x1="382.90" y1="364.70" x2="382.90" y2="368.30" stroke="#000" stroke-width="1.2"/>
<line x1="419.40" y1="364.70" x2="419.40" y2="368.30" stroke="#000" stroke-width="1.2"/>
<line x1="454.20" y1="364.70" x2="454.20" y2="368.30" stroke="#000" stroke-width="1.2"/>
<line x1="489.60" y1="364.70" x2="489.60" y2="368.30" stroke="#000" stroke-width="1.2"/>
<circle cx="382.9" cy="336.9" r="2.3" fill="#000"/>
<circle cx="380" cy="346" r="2.3" fill="#000"/>
<circle cx="377.7" cy="347.3" r="2.3" fill="#000"/>
<circle cx="389.2" cy="347.3" r="2.3" fill="#000"/>
<circle cx="383.8" cy="353" r="2.3" fill="#000"/>
<circle cx="377.7" cy="355.2" r="2.3" fill="#000"/>
<circle cx="382.9" cy="361" r="2.3" fill="#000"/>
<circle cx="388.7" cy="360.4" r="2.3" fill="#000"/>
<line x1="371.30" y1="350.80" x2="395.00" y2="350.80" stroke="#000" stroke-width="1.4"/>
<rect x="416.35" y="338.65" width="4.3" height="4.3" fill="#000"/>
<rect x="411.55" y="343.85" width="4.3" height="4.3" fill="#000"/>
<rect x="414.25" y="344.05" width="4.3" height="4.3" fill="#000"/>
<rect x="422.05" y="343.45" width="4.3" height="4.3" fill="#000"/>
<rect x="410.55" y="347.65" width="4.3" height="4.3" fill="#000"/>
<rect x="415.35" y="346.35" width="4.3" height="4.3" fill="#000"/>
<rect x="410.55" y="351.55" width="4.3" height="4.3" fill="#000"/>
<rect x="416.65" y="357.25" width="4.3" height="4.3" fill="#000"/>
<rect x="422.05" y="357.25" width="4.3" height="4.3" fill="#000"/>
<line x1="406.50" y1="349.80" x2="431.00" y2="349.80" stroke="#000" stroke-width="1.4"/>
<polygon points="448.80,349.10 446.50,353.60 451.10,353.60" fill="#000"/>
<polygon points="454.20,350.40 451.90,354.90 456.50,354.90" fill="#000"/>
<polygon points="459.80,352.40 457.50,356.90 462.10,356.90" fill="#000"/>
<polygon points="454.20,358.40 451.90,362.90 456.50,362.90" fill="#000"/>
<line x1="442.00" y1="355.00" x2="466.70" y2="355.00" stroke="#000" stroke-width="1.4"/>
<polygon points="490.00,256.70 487.80,252.20 492.20,252.20" fill="#000"/>
<polygon points="484.20,268.30 482.00,263.80 486.40,263.80" fill="#000"/>
<polygon points="496.00,271.20 493.80,266.70 498.20,266.70" fill="#000"/>
<polygon points="490.00,272.80 487.80,268.30 492.20,268.30" fill="#000"/>
<polygon points="484.20,288.10 482.00,283.60 486.40,283.60" fill="#000"/>
<polygon points="490.00,290.40 487.80,285.90 492.20,285.90" fill="#000"/>
<polygon points="496.00,299.80 493.80,295.30 498.20,295.30" fill="#000"/>
<polygon points="490.00,305.40 487.80,300.90 492.20,300.90" fill="#000"/>
<line x1="477.40" y1="279.20" x2="502.40" y2="279.20" stroke="#000" stroke-width="1.4"/>
<text x="386.70" y="380.80" font-size="9.8" font-weight="bold" text-anchor="end" transform="rotate(-45 386.70 380.80)" fill="#000" stroke="#000" stroke-width="0.28">NK</text>
<text x="423.00" y="377.00" font-size="9.8" font-weight="bold" text-anchor="end" transform="rotate(-45 423.00 377.00)" fill="#000" stroke="#000" stroke-width="0.28">MOCK</text>
<text x="460.20" y="375.70" font-size="9.8" font-weight="bold" text-anchor="end" transform="rotate(-45 460.20 375.70)" fill="#000" stroke="#000" stroke-width="0.28">UV-TB40/E</text>
<text x="494.40" y="375.70" font-size="9.8" font-weight="bold" text-anchor="end" transform="rotate(-45 494.40 375.70)" fill="#000" stroke="#000" stroke-width="0.28">TB40/E</text>
<path d="M392.10 410.30 Q392.70 415.20 398.10 415.20 L444.20 415.20 Q448.10 415.20 448.70 419.20 Q449.30 415.20 453.20 415.20 L496.50 415.20 Q501.90 415.20 502.50 410.30" fill="none" stroke="#000" stroke-width="1.25" stroke-linejoin="miter"/>
<text x="421.00" y="430.00" font-size="10" text-anchor="start" fill="#000" stroke="#000" stroke-width="0.28">NK +moDC</text>
</svg>
</body></html>
